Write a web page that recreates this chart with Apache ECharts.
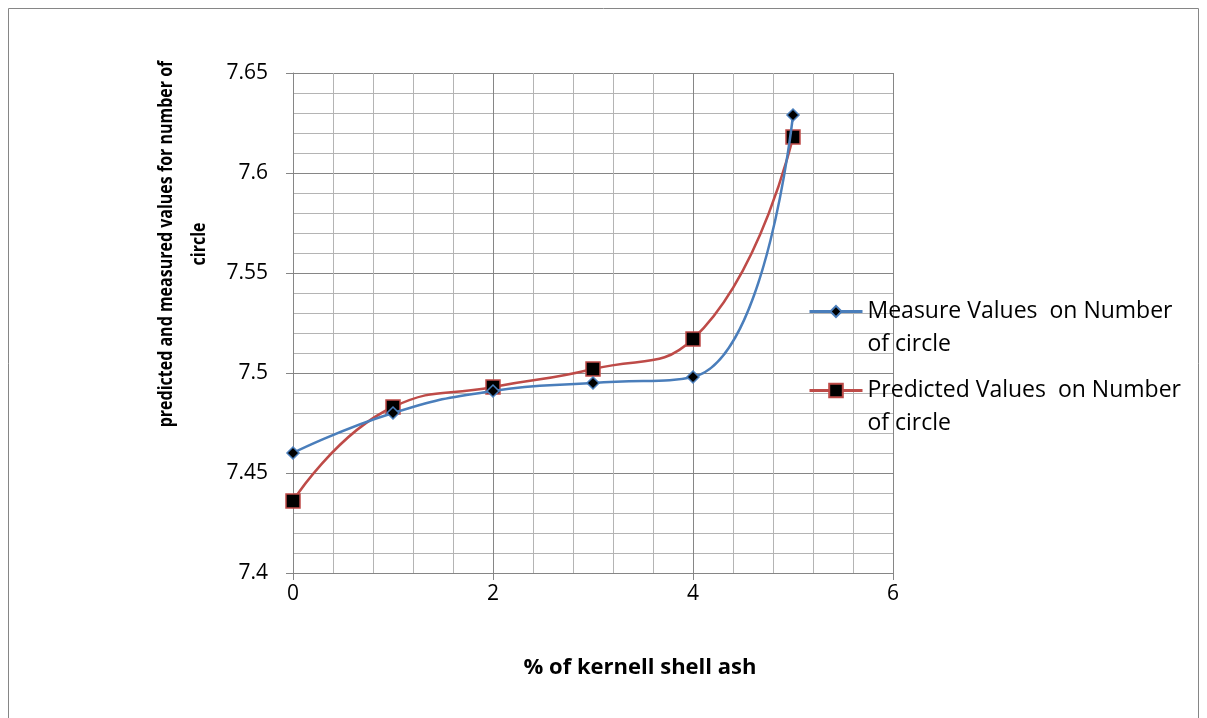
<!DOCTYPE html>
<html><head><meta charset="utf-8">
<script src="https://cdn.jsdelivr.net/npm/echarts@6/dist/echarts.min.js"></script>
<style>html,body{margin:0;padding:0;background:#fff}#c{width:1207px;height:718px}</style>
</head><body><div id="c"></div>
<script>
const xValues = [0, 1, 2, 3, 4, 5];
const measured = [7.460, 7.480, 7.491, 7.495, 7.498, 7.629];
const predicted = [7.436, 7.483, 7.493, 7.502, 7.517, 7.618];
const seriesNames = ['Measure Values  on Number\nof circle', 'Predicted Values  on Number\nof circle'];
const xTitle = '% of kernell shell ash';
const yTitle = 'predicted and measured values for number of\ncircle';

const chart = echarts.init(document.getElementById('c'), null, {renderer: 'canvas'});
const font = 'Open Sans';
const legendText = {fontFamily: font, fontSize: 23, color: '#000', lineHeight: 33};
const legendFmt = name => '\n' + name;
chart.setOption({
  animation: false,
  backgroundColor: '#fff',
  graphic: [
    {type: 'rect', shape: {x: 8.5, y: 8.5, width: 1190, height: 720}, style: {fill: 'none', stroke: '#868686', lineWidth: 1}},
    {type: 'text', x: 183, y: 244, rotation: Math.PI / 2, scaleX: 0.80, style: {text: yTitle, fontFamily: font, fontWeight: 'bold', fontSize: 20, lineHeight: 33, textAlign: 'center', textVerticalAlign: 'middle', fill: '#000'}}
  ],
  legend: [
    {data: [seriesNames[0]], left: 808, top: 262, padding: 0, orient: 'vertical', itemWidth: 53, itemHeight: 14, formatter: legendFmt, textStyle: legendText, selectedMode: false, lineStyle: {width: 3}},
    {data: [seriesNames[1]], left: 808, top: 341, padding: 0, orient: 'vertical', itemWidth: 53, itemHeight: 17, formatter: legendFmt, textStyle: legendText, selectedMode: false, lineStyle: {width: 3}}
  ],
  grid: {left: 293, top: 73, right: 314, bottom: 145, containLabel: false},
  xAxis: {
    type: 'value', min: 0, max: 6, interval: 2,
    name: xTitle, nameLocation: 'middle', nameGap: 84,
    nameTextStyle: {fontFamily: font, fontWeight: 'bold', fontSize: 22, color: '#000', padding: [0, 0, 0, 94]},
    axisLine: {lineStyle: {color: '#868686', width: 1}},
    axisTick: {show: true, length: 7, inside: false, lineStyle: {color: '#868686'}},
    axisLabel: {fontFamily: font, fontSize: 21, color: '#000', margin: 11},
    splitLine: {show: true, lineStyle: {color: '#868686', width: 1}},
    minorTick: {show: false, splitNumber: 5},
    minorSplitLine: {show: true, lineStyle: {color: '#b4b4b4', width: 1}}
  },
  yAxis: {
    type: 'value', min: 7.4, max: 7.65, interval: 0.05,
    axisLine: {show: true, lineStyle: {color: '#868686', width: 1}},
    axisTick: {show: true, length: 7, lineStyle: {color: '#868686'}},
    axisLabel: {fontFamily: font, fontSize: 21, color: '#000', margin: 25},
    splitLine: {show: true, lineStyle: {color: '#868686', width: 1}},
    minorTick: {show: false, splitNumber: 5},
    minorSplitLine: {show: true, lineStyle: {color: '#b4b4b4', width: 1}}
  },
  series: [
    {name: seriesNames[0], type: 'line', smooth: 0.5, data: xValues.map((x, i) => [x, measured[i]]),
     symbol: 'diamond', symbolSize: 12,
     lineStyle: {color: '#4a7ebb', width: 2.5},
     itemStyle: {color: '#000', borderColor: '#4a7ebb', borderWidth: 1.5}, z: 3},
    {name: seriesNames[1], type: 'line', smooth: 0.5, data: xValues.map((x, i) => [x, predicted[i]]),
     symbol: 'rect', symbolSize: 14,
     lineStyle: {color: '#be4b48', width: 2.5},
     itemStyle: {color: '#000', borderColor: '#be4b48', borderWidth: 1.5}, z: 2}
  ]
});
</script></body></html>
